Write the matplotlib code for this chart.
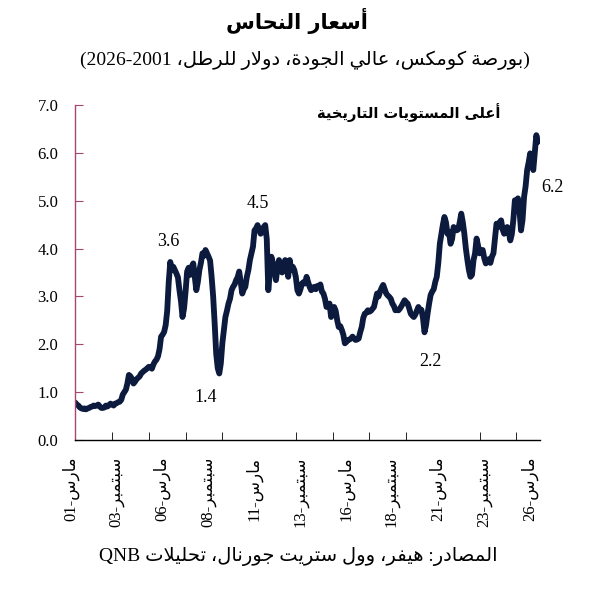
import numpy as np
import matplotlib
matplotlib.use("Agg")
import matplotlib.pyplot as plt
from matplotlib.transforms import ScaledTranslation

# texts (logical order, shaped below)
title = "أسعار النحاس"
subtitle = "(بورصة كومكس، عالي الجودة، دولار للرطل، 2026-2001)"
source = "المصادر: هيفر، وول ستريت جورنال، تحليلات QNB"
note = "أعلى المستويات التاريخية"
tick_names = ["مارس-01", "سبتمبر-03", "مارس-06", "سبتمبر-08", "مارس-11", "سبتمبر-13",
              "مارس-16", "سبتمبر-18", "مارس-21", "سبتمبر-23", "مارس-26"]
tick_dates = [2001 + 2/12 + 2.5*k for k in range(11)]

# copper price, USD/lb, monthly from Mar 2001
price = [
    0.78, 0.74, 0.72, 0.68, 0.66, 0.65, 0.66, 0.64, 0.66, 0.67,                   # 2001 (Mar-)
    0.69, 0.70, 0.72, 0.71, 0.72, 0.74, 0.70, 0.67, 0.67, 0.68, 0.72, 0.70,       # 2002
    0.73, 0.76, 0.74, 0.72, 0.76, 0.77, 0.79, 0.80, 0.84, 0.95, 1.00, 1.05,       # 2003
    1.18, 1.36, 1.33, 1.28, 1.18, 1.22, 1.27, 1.30, 1.33, 1.39, 1.42, 1.45,       # 2004
    1.47, 1.50, 1.53, 1.52, 1.49, 1.58, 1.64, 1.68, 1.75, 1.90, 2.16, 2.20,       # 2005
    2.26, 2.40, 2.70, 3.30, 3.72, 3.55, 3.62, 3.55, 3.48, 3.40, 3.13, 2.90,       # 2006
    2.57, 2.75, 3.10, 3.52, 3.60, 3.45, 3.62, 3.69, 3.40, 3.13, 3.30, 3.55,       # 2007
    3.70, 3.90, 3.85, 3.97, 3.90, 3.83, 3.75, 3.41, 3.00, 2.43, 1.80, 1.50,       # 2008
    1.39, 1.60, 2.02, 2.30, 2.57, 2.70, 2.85, 2.95, 3.13, 3.20, 3.25, 3.34,       # 2009
    3.40, 3.52, 3.30, 3.06, 3.15, 3.20, 3.41, 3.55, 3.76, 3.90, 4.04, 4.38,       # 2010
    4.42, 4.49, 4.40, 4.31, 4.35, 4.45, 4.49, 4.20, 3.13, 3.50, 3.83, 3.70,       # 2011
    3.55, 3.34, 3.60, 3.76, 3.62, 3.50, 3.62, 3.76, 3.60, 3.41, 3.76, 3.55,       # 2012
    3.62, 3.55, 3.40, 3.13, 3.06, 3.15, 3.27, 3.30, 3.27, 3.41, 3.30, 3.20,       # 2013
    3.13, 3.18, 3.20, 3.15, 3.22, 3.20, 3.25, 3.10, 3.06, 2.95, 2.78, 2.80,       # 2014
    2.85, 2.57, 2.65, 2.78, 2.70, 2.50, 2.36, 2.38, 2.30, 2.20, 2.02, 2.05,       # 2015
    2.09, 2.10, 2.12, 2.16, 2.12, 2.09, 2.10, 2.12, 2.25, 2.36, 2.55, 2.64,       # 2016
    2.66, 2.71, 2.68, 2.70, 2.74, 2.78, 2.92, 3.06, 3.00, 3.10, 3.18, 3.24,       # 2017
    3.15, 3.06, 3.02, 2.99, 2.95, 2.85, 2.80, 2.71, 2.72, 2.71, 2.75, 2.80,       # 2018
    2.86, 2.92, 2.88, 2.85, 2.75, 2.64, 2.60, 2.57, 2.62, 2.70, 2.78, 2.72,       # 2019
    2.72, 2.55, 2.25, 2.40, 2.64, 2.85, 3.03, 3.10, 3.15, 3.30, 3.41, 3.70,       # 2020
    4.10, 4.30, 4.50, 4.66, 4.55, 4.31, 4.35, 4.10, 4.20, 4.45, 4.40, 4.38,       # 2021
    4.40, 4.55, 4.73, 4.55, 4.31, 4.00, 3.76, 3.55, 3.41, 3.45, 3.76, 3.90,       # 2022
    4.21, 4.05, 3.90, 3.95, 3.97, 3.80, 3.69, 3.72, 3.78, 3.70, 3.83, 3.90,       # 2023
    4.20, 4.52, 4.45, 4.55, 4.59, 4.40, 4.31, 4.35, 4.45, 4.35, 4.17, 4.30,       # 2024
    4.60, 5.01, 4.95, 5.05, 4.80, 4.38, 4.60, 5.08, 5.30, 5.64, 5.80, 5.99,       # 2025
    5.80, 5.64, 6.00, 6.37, 6.23,                                                 # 2026
]
t = 2001 + 2/12 + np.arange(len(price)) / 12

# point labels: (text, x date, y value)
labels = [("3.6", 2006.21, 4.15), ("1.4", 2008.28, 0.88), ("4.5", 2011.11, 4.95),
          ("2.2", 2020.50, 1.63), ("6.2", 2027.14, 5.28)]

# --- minimal Arabic shaping + RTL reordering (matplotlib has no bidi) ---
AR = {'ا': (0xFE8D, 0), 'أ': (0xFE83, 0), 'د': (0xFEA9, 0), 'ر': (0xFEAD, 0),
      'و': (0xFEED, 0), 'ة': (0xFE93, 0), 'ى': (0xFEEF, 0),
      'ب': (0xFE8F, 1), 'ت': (0xFE95, 1), 'ج': (0xFE9D, 1), 'ح': (0xFEA1, 1),
      'خ': (0xFEA5, 1), 'س': (0xFEB1, 1), 'ص': (0xFEB9, 1), 'ط': (0xFEC1, 1),
      'ع': (0xFEC9, 1), 'ف': (0xFED1, 1), 'ك': (0xFED9, 1), 'ل': (0xFEDD, 1),
      'م': (0xFEE1, 1), 'ن': (0xFEE5, 1), 'ه': (0xFEE9, 1), 'ي': (0xFEF1, 1)}
MIRROR = {'(': ')', ')': '('}


def shape(s):
    out, i, n = [], 0, len(s)
    while i < n:
        c = s[i]
        if c not in AR:
            out.append(c)
            i += 1
            continue
        prev = i > 0 and s[i-1] in AR and AR[s[i-1]][1]
        if c == 'ل' and i + 1 < n and s[i+1] in 'اأ':
            base = 0xFEFB if s[i+1] == 'ا' else 0xFEF7
            out.append(chr(base + (1 if prev else 0)))
            i += 2
            continue
        nxt = i + 1 < n and s[i+1] in AR
        iso, dual = AR[c]
        if dual and prev and nxt:
            code = iso + 3
        elif dual and nxt:
            code = iso + 2
        elif prev:
            code = iso + 1
        else:
            code = iso
        out.append(chr(code))
        i += 1
    return ''.join(out)


def is_ltr(s, i):
    c = s[i]
    if c.isascii() and c.isalnum():
        return True
    if c in '-.' and 0 < i < len(s) - 1:
        return s[i-1].isascii() and s[i-1].isdigit() and s[i+1].isascii() and s[i+1].isdigit()
    return False


def ar(s):
    s = shape(s)
    runs = []
    for i, c in enumerate(s):
        l = is_ltr(s, i)
        if runs and runs[-1][0] == l:
            runs[-1][1].append(c)
        else:
            runs.append((l, [c]))
    vis = []
    for l, chars in reversed(runs):
        if l:
            vis.append(''.join(chars))
        else:
            vis.append(''.join(MIRROR.get(c, c) for c in reversed(chars)))
    return ''.join(vis)


mixed = ['Liberation Serif', 'DejaVu Sans']
navy = '#0c1a3e'
maroon = '#a8466f'

fig = plt.figure(figsize=(6.0, 5.93), dpi=100)
ax = fig.add_axes([75/600, 153/593, 465/600, 335/593])

ax.plot(t, price, color=navy, lw=4.2, solid_joinstyle='round', solid_capstyle='round')

ax.set_xlim(2001.15, 2026.45)
ax.set_ylim(0, 7)

for side in ['top', 'right']:
    ax.spines[side].set_visible(False)
ax.spines['left'].set_color(maroon)
ax.spines['left'].set_linewidth(1.0)
ax.spines['bottom'].set_color('black')
ax.spines['bottom'].set_linewidth(1.0)

ax.set_yticks(np.arange(0, 8))
ax.set_yticklabels([f"{v:.1f}" for v in range(8)], family='Liberation Serif', fontsize=12)
ax.tick_params(axis='y', direction='in', length=6, color=maroon, pad=12)

ax.set_xticks(tick_dates)
ax.set_xticklabels([ar(n) for n in tick_names], rotation=90, family=mixed, fontsize=12)
ax.set_xticks([2001 + 2/12 + 2*k for k in range(13)], minor=True)
ax.tick_params(axis='x', which='major', length=0, pad=12)
ax.tick_params(axis='x', which='minor', direction='in', length=6, color='black')
shift = ScaledTranslation(-5/100, 0, fig.dpi_scale_trans)
for lab in ax.get_xticklabels():
    lab.set_transform(lab.get_transform() + shift)

for txt, x, y in labels:
    ax.text(x, y, txt, ha='center', va='center', family='Liberation Serif',
            fontsize=13, clip_on=False)

ax.text(2024.3, 6.85, ar(note), ha='right', va='center', family='DejaVu Sans',
        fontweight='bold', fontsize=10.5)

fig.text(0.495, 0.965, ar(title), ha='center', va='center', family='DejaVu Sans',
         fontweight='bold', fontsize=15)
fig.text(0.508, 0.898, ar(subtitle), ha='center', va='center', family=mixed, fontsize=14)
fig.text(0.497, 0.062, ar(source), ha='center', va='center', family=mixed, fontsize=14)

fig.savefig("out.png", dpi=100)
